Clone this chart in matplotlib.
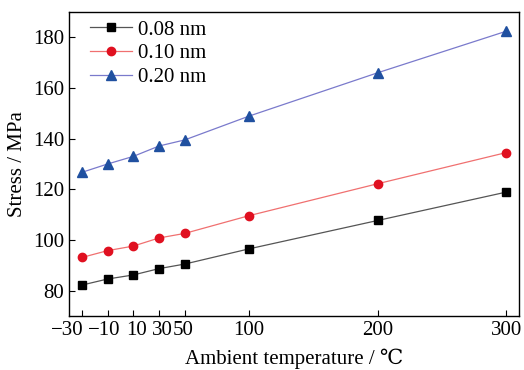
import matplotlib
matplotlib.use('Agg')
import matplotlib.pyplot as plt
from matplotlib.transforms import ScaledTranslation

plt.rcParams['font.family'] = ['Liberation Serif', 'DejaVu Serif']

temps = [-30, -10, 10, 30, 50, 100, 200, 300]
stress_008 = [82.2, 84.6, 86.2, 88.7, 90.5, 96.5, 107.7, 118.9]
stress_010 = [93.1, 95.8, 97.6, 100.8, 102.6, 109.6, 122.2, 134.5]
stress_020 = [126.7, 130.0, 133.0, 137.1, 139.5, 148.9, 166.0, 182.4]
labels = ['0.08 nm', '0.10 nm', '0.20 nm']

fig = plt.figure(figsize=(5.24, 3.70), dpi=100)
ax = fig.add_axes([69 / 524, 54 / 370, 450 / 524, 304 / 370])

ax.plot(temps, stress_008, color='#555555', lw=0.9, marker='s', ms=5.5,
        mfc='black', mec='black', label=labels[0])
ax.plot(temps, stress_010, color='#f07070', lw=0.9, marker='o', ms=6,
        mfc='#e01020', mec='#e01020', label=labels[1])
ax.plot(temps, stress_020, color='#7a7acc', lw=0.9, marker='^', ms=7,
        mfc='#2050a0', mec='#2050a0', label=labels[2])

ax.set_xlim(-40, 310)
ax.set_ylim(70, 190)
ax.set_xticks(temps)
ax.set_yticks([80, 100, 120, 140, 160, 180])
ax.tick_params(direction='in', labelsize=15, length=4, width=0.8)
for s in ax.spines.values():
    s.set_linewidth(1.0)

# squeeze the crowded negative labels a bit to the left, as in the original
shifts = [-15, -3, 3, 3, -2, 0, 0, 0]
for lab, dx in zip(ax.get_xticklabels(), shifts):
    lab.set_transform(lab.get_transform() + ScaledTranslation(dx / 100, 0, fig.dpi_scale_trans))

ax.set_xlabel('Ambient temperature / \u2103', fontsize=15, labelpad=6)
ax.set_ylabel('Stress / MPa', fontsize=15, labelpad=4)

ax.legend(loc='upper left', frameon=False, fontsize=15, handlelength=2.0,
          handletextpad=0.3, labelspacing=0.2, borderaxespad=0,
          borderpad=0, bbox_to_anchor=(21 / 450, 1 - 8 / 304))

fig.savefig('out.png', dpi=100)
